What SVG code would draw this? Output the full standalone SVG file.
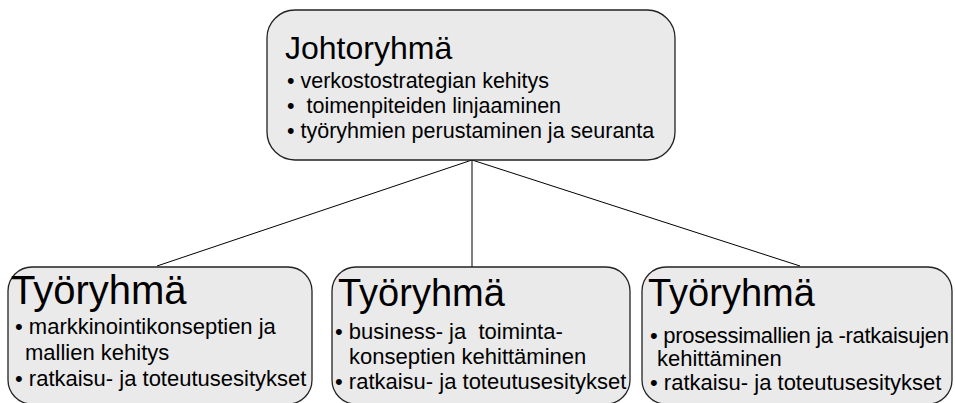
<svg xmlns="http://www.w3.org/2000/svg" width="955" height="403" viewBox="0 0 955 403">
  <style>
    .box { fill: #eaeaea; stroke: #222; stroke-width: 1.3; }
    .edge { stroke: #000; stroke-width: 1; fill: none; }
    .title { font-family: "Liberation Sans", Arial, sans-serif; font-size: 38px; fill: #000; }
    .head { font-size: 32px; }
    .big { font-size: 40px; }
    .item { font-family: "Liberation Sans", Arial, sans-serif; font-size: 22px; fill: #000; white-space: pre; }
    .top { font-size: 21.5px; }
  </style>
  <rect width="955" height="403" fill="#fff"/>

  <g id="connectors">
    <line class="edge" x1="472" y1="160" x2="157" y2="266"/>
    <line class="edge" x1="472" y1="160" x2="472" y2="267"/>
    <line class="edge" x1="472" y1="160" x2="800" y2="266"/>
  </g>

  <g id="johtoryhma">
    <rect class="box" x="267" y="10" width="408" height="150" rx="28" ry="28"/>
    <text class="title head" x="285" y="59">Johtoryhmä</text>
    <text class="item top" x="287" y="88" xml:space="preserve">• verkostostrategian kehitys</text>
    <text class="item top" x="287" y="113" xml:space="preserve">•  toimenpiteiden linjaaminen</text>
    <text class="item top" x="287" y="138" xml:space="preserve">• työryhmien perustaminen ja seuranta</text>
  </g>

  <g id="tyoryhma-1">
    <rect class="box" x="8" y="267" width="304" height="137" rx="24" ry="24"/>
    <text class="title big" x="11" y="304">Työryhmä</text>
    <text class="item" x="15" y="334" xml:space="preserve">• markkinointikonseptien ja</text>
    <text class="item" x="25" y="360">mallien kehitys</text>
    <text class="item" x="15" y="386" xml:space="preserve">• ratkaisu- ja toteutusesitykset</text>
  </g>

  <g id="tyoryhma-2">
    <rect class="box" x="332" y="267" width="298" height="137" rx="24" ry="24"/>
    <text class="title" x="338" y="306">Työryhmä</text>
    <text class="item" x="335" y="339" xml:space="preserve">• business- ja  toiminta-</text>
    <text class="item" x="349" y="364">konseptien kehittäminen</text>
    <text class="item" x="335" y="389" xml:space="preserve">• ratkaisu- ja toteutusesitykset</text>
  </g>

  <g id="tyoryhma-3">
    <rect class="box" x="642" y="267" width="310" height="137" rx="24" ry="24"/>
    <text class="title" x="648" y="306">Työryhmä</text>
    <text class="item" x="650" y="343" textLength="299" lengthAdjust="spacing" xml:space="preserve">• prosessimallien ja -ratkaisujen</text>
    <text class="item" x="657" y="366">kehittäminen</text>
    <text class="item" x="650" y="390" xml:space="preserve">• ratkaisu- ja toteutusesitykset</text>
  </g>
</svg>
